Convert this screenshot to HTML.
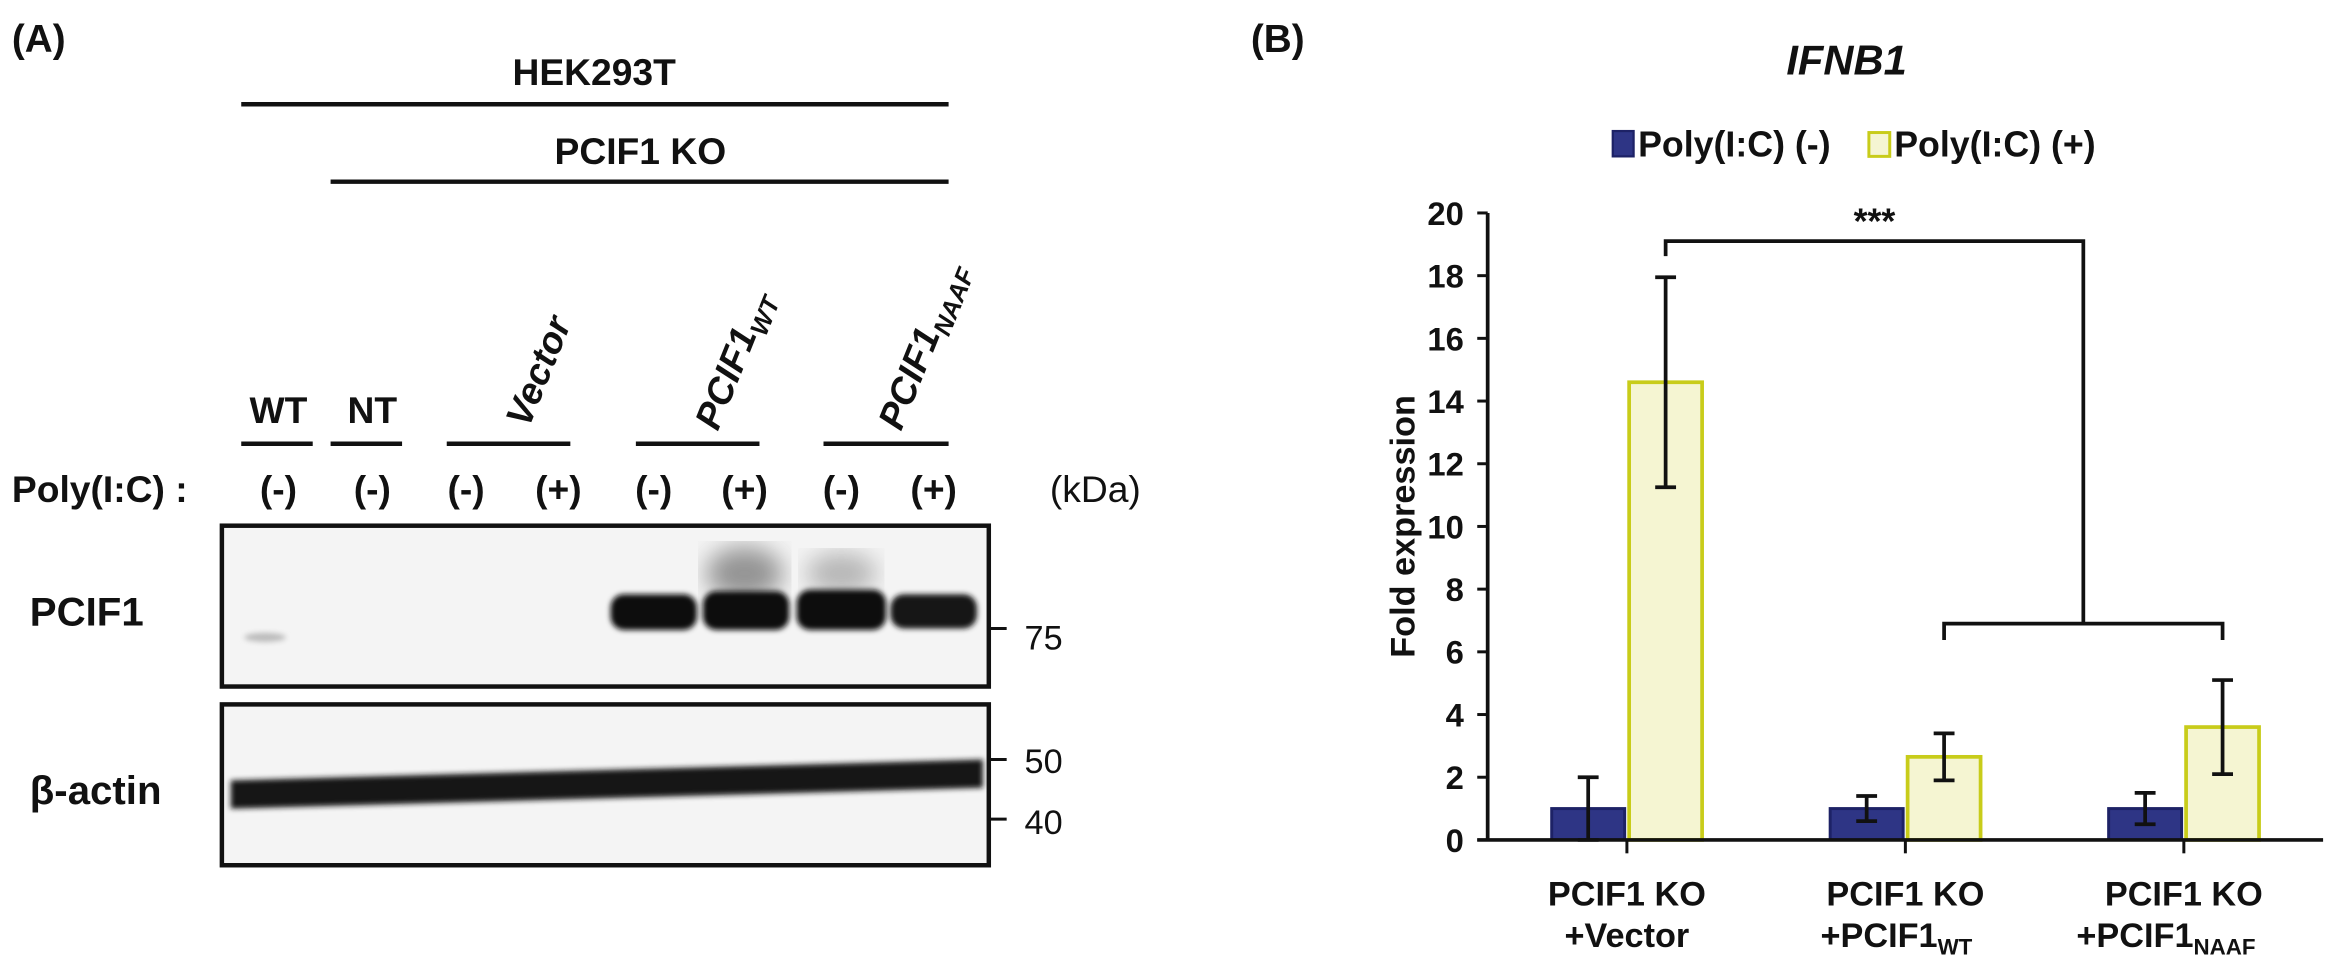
<!DOCTYPE html>
<html><head><meta charset="utf-8">
<style>
body{margin:0;background:#fff;width:2335px;height:961px;overflow:hidden;font-family:"Liberation Sans",sans-serif}
svg text{font-family:"Liberation Sans",sans-serif;font-weight:bold;fill:#111}
</style></head>
<body>
<svg width="2335" height="961" viewBox="0 0 1568 645.3" preserveAspectRatio="none">
<defs>
<filter id="blur" x="-20%" y="-50%" width="140%" height="200%"><feGaussianBlur stdDeviation="1.8"/></filter>
<filter id="blur2"><feGaussianBlur stdDeviation="8"/></filter>
</defs>
<g>
<text x="8" y="35" font-size="26">(A)</text>
<text x="399" y="57" font-size="25" text-anchor="middle">HEK293T</text>
<line x1="162" y1="70" x2="637" y2="70" stroke="#111" stroke-width="3"/>
<text x="430" y="110" font-size="25" text-anchor="middle">PCIF1 KO</text>
<line x1="222" y1="122" x2="637" y2="122" stroke="#111" stroke-width="3"/>
<text x="187" y="284" font-size="25" text-anchor="middle">WT</text>
<text x="250" y="284" font-size="25" text-anchor="middle">NT</text>
<text transform="translate(355,288) rotate(-68)" font-size="25" font-style="italic">Vector</text>
<text transform="translate(482,290) rotate(-68)" font-size="25" font-style="italic">PCIF1<tspan font-size="17" dy="6">WT</tspan></text>
<text transform="translate(605,290) rotate(-68)" font-size="25" font-style="italic">PCIF1<tspan font-size="17" dy="6">NAAF</tspan></text>
<g stroke="#111" stroke-width="3">
<line x1="162" y1="298" x2="210" y2="298"/><line x1="222" y1="298" x2="270" y2="298"/>
<line x1="300" y1="298" x2="383" y2="298"/><line x1="427" y1="298" x2="510" y2="298"/><line x1="553" y1="298" x2="637" y2="298"/>
</g>
<text x="8" y="337" font-size="25">Poly(I:C) :</text>
<g font-size="25" text-anchor="middle">
<text x="187" y="337">(-)</text><text x="250" y="337">(-)</text><text x="313" y="337">(-)</text><text x="375" y="337">(+)</text>
<text x="439" y="337">(-)</text><text x="500" y="337">(+)</text><text x="565" y="337">(-)</text><text x="627" y="337">(+)</text>
</g>
<text x="705" y="337" font-size="25" style="font-weight:normal">(kDa)</text>
<rect x="149" y="353" width="515" height="108" fill="#f4f4f4" stroke="#111" stroke-width="3"/>
<g>
<ellipse cx="500" cy="385" rx="26" ry="18" fill="#555" filter="url(#blur2)" opacity="0.6"/>
<ellipse cx="565" cy="385" rx="24" ry="14" fill="#777" filter="url(#blur2)" opacity="0.5"/>
<rect x="410" y="399" width="58" height="24" rx="9" fill="#111" filter="url(#blur)"/>
<rect x="472" y="397" width="58" height="26" rx="9" fill="#111" filter="url(#blur)"/>
<rect x="535" y="396" width="60" height="27" rx="9" fill="#111" filter="url(#blur)"/>
<rect x="598" y="399" width="58" height="23" rx="9" fill="#151515" filter="url(#blur)"/>
<ellipse cx="178" cy="428" rx="14" ry="3" fill="#bbb" filter="url(#blur)"/>
</g>
<rect x="149" y="473" width="515" height="108" fill="#f4f4f4" stroke="#111" stroke-width="3"/>
<polygon points="155,524 660,510 660,529 155,543" fill="#141414" filter="url(#blur)"/>
<text x="20" y="420" font-size="27">PCIF1</text>
<text x="20" y="540" font-size="27">β-actin</text>
<g stroke="#111" stroke-width="2">
<line x1="664" y1="422" x2="676" y2="422"/><line x1="664" y1="510" x2="676" y2="510"/><line x1="664" y1="550" x2="676" y2="550"/>
</g>
<g font-size="23">
<text x="688" y="436" style="font-weight:normal">75</text><text x="688" y="519" style="font-weight:normal">50</text><text x="688" y="560" style="font-weight:normal">40</text>
</g>
</g>
<text x="840" y="35" font-size="26">(B)</text>
<g id="chart"></g>
</svg>
<script>
const categories=["PCIF1 KO|+Vector","PCIF1 KO|+PCIF1|WT","PCIF1 KO|+PCIF1|NAAF"];
const minusValues=[1.0,1.0,1.0];
const minusErrors=[1.0,0.4,0.5];
const plusValues=[14.6,2.65,3.6];
const plusErrors=[3.35,0.75,1.5];
const yTicks=[0,2,4,6,8,10,12,14,16,18,20];
const NS="http://www.w3.org/2000/svg";
const g=document.getElementById('chart');
const X0=999,X1=1560,Y0=564,Y1=143,YMAX=20;
const y=v=>Y0-(v/YMAX)*(Y0-Y1);
const band=(X1-X0)/categories.length;
const cx=i=>X0+band*(i+0.5);
const BW=49,GAP=3;
function mk(tag,attrs){const e=document.createElementNS(NS,tag);for(const k in attrs)e.setAttribute(k,attrs[k]);g.appendChild(e);return e;}
let t=mk('text',{x:1240,y:50,'font-size':28,'font-style':'italic','text-anchor':'middle'});t.textContent='IFNB1';


let r=mk('rect',{x:1083,y:88,width:14,height:17,fill:'#2e3585',stroke:'#1d2266','stroke-width':1.5});


t=mk('text',{x:1100,y:105,'font-size':24});t.textContent='Poly(I:C) (-)';


r=mk('rect',{x:1255,y:89,width:14,height:16,fill:'#f5f5d2',stroke:'#c8cc1a','stroke-width':2});


t=mk('text',{x:1272,y:105,'font-size':24});t.textContent='Poly(I:C) (+)';


let l=mk('line',{x1:X0,y1:Y1,x2:X0,y2:Y0,stroke:'#111','stroke-width':2.5});


yTicks.forEach(v=>{
  const tl=mk('line',{x1:X0-7,y1:y(v),x2:X0,y2:y(v),stroke:'#111','stroke-width':2});
  
  
  const tx=mk('text',{x:X0-16,y:y(v)+8,'font-size':22,'text-anchor':'end'});tx.textContent=v;
  
  
});
t=mk('text',{transform:`translate(950,${(Y0+Y1)/2}) rotate(-90)`,'font-size':23,'text-anchor':'middle'});t.textContent='Fold expression';


function errbar(x,v,e,name){
  const p=mk('path',{d:`M${x},${y(v+e)}V${y(Math.max(0,v-e))}M${x-7},${y(v+e)}H${x+7}M${x-7},${y(Math.max(0,v-e))}H${x+7}`,stroke:'#111','stroke-width':2.5,fill:'none'});
  
  
}
categories.forEach((c,i)=>{
  const c0=cx(i);
  const b1=mk('rect',{x:c0-GAP/2-BW,y:y(minusValues[i]),width:BW,height:y(0)-y(minusValues[i]),fill:'#2e3585',stroke:'#1d2266','stroke-width':2});
  
  
  const b2=mk('rect',{x:c0+GAP/2,y:y(plusValues[i]),width:BW,height:y(0)-y(plusValues[i]),fill:'#f5f5d2',stroke:'#c8cc1a','stroke-width':2.5});
  
  
  errbar(c0-GAP/2-BW/2,minusValues[i],minusErrors[i],'error-bar-minus-'+i);
  errbar(c0+GAP/2+BW/2,plusValues[i],plusErrors[i],'error-bar-plus-'+i);
  const tk=mk('line',{x1:c0,y1:Y0,x2:c0,y2:Y0+9,stroke:'#111','stroke-width':2});
  
  
  const parts=c.split('|');
  const l1=mk('text',{x:c0,y:Y0+44,'font-size':23,'text-anchor':'middle'});l1.textContent=parts[0];
  
  
  const l2=mk('text',{x:c0+(parts[2]?-(parts[2].length*3):0),y:Y0+72,'font-size':23,'text-anchor':'middle'});
  l2.textContent=parts[1];
  if(parts[2]){const s=document.createElementNS(NS,'tspan');s.setAttribute('font-size','15');s.setAttribute('dy','5');s.textContent=parts[2];l2.appendChild(s);}
  
  
});
l=mk('line',{x1:X0-7,y1:Y0,x2:X1,y2:Y0,stroke:'#111','stroke-width':2.5});


const topY=y(19.1),lowY=y(6.9);
const brA=cx(0)+GAP/2+BW/2;
const lowL=cx(1)+GAP/2+BW/2, lowR=cx(2)+GAP/2+BW/2, brMid=(lowL+lowR)/2;
let p=mk('path',{d:`M${brA},${topY+10}V${topY}H${brMid}V${lowY}M${lowL},${lowY+11}V${lowY}H${lowR}V${lowY+11}`,stroke:'#111','stroke-width':2.5,fill:'none'});


t=mk('text',{x:(brA+brMid)/2,y:topY-5,'font-size':24,'text-anchor':'middle'});t.textContent='***';


</script>
</body></html>
